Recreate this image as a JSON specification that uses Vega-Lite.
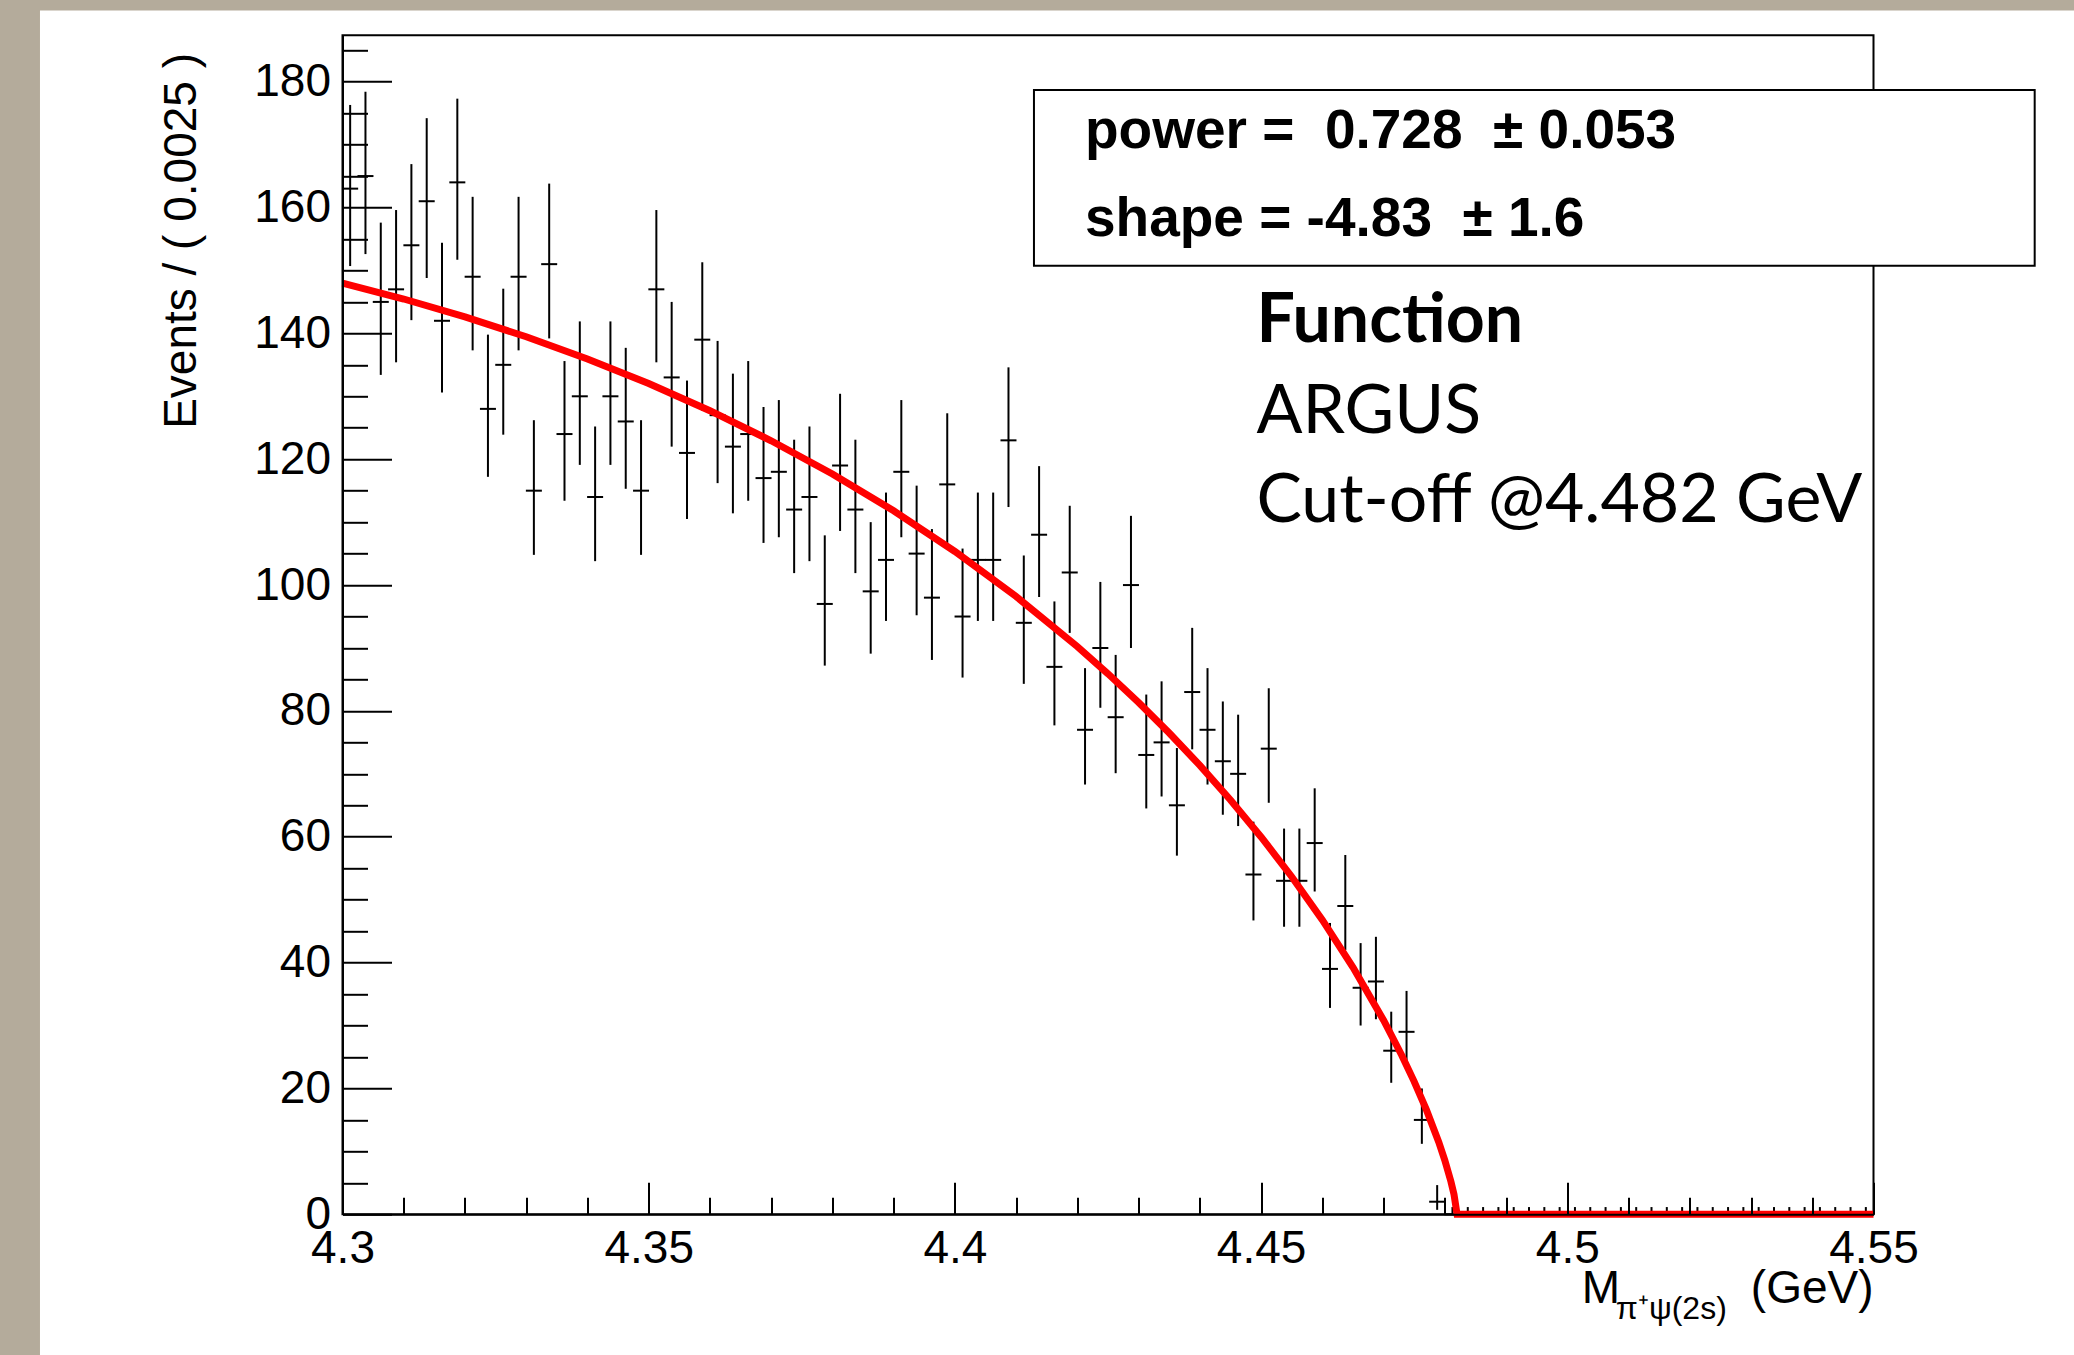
{
  "$schema": "https://vega.github.io/schema/vega-lite/v6.json",
  "width": 1531,
  "height": 1179,
  "autosize": {"type": "none"},
  "padding": {"left": 342.5, "top": 35.3, "right": 200.5, "bottom": 140.7},
  "background": "#b4ab9b",
  "config": {"view": {"stroke": null}, "axis": {"zindex": 1, "grid": false}},
  "datasets": {
    "bins": [
      {"m": 4.30125, "n": 163, "lo": 150.7, "hi": 176.3},
      {"m": 4.30375, "n": 165, "lo": 152.6, "hi": 178.4},
      {"m": 4.30625, "n": 145, "lo": 133.4, "hi": 157.6},
      {"m": 4.30875, "n": 147, "lo": 135.4, "hi": 159.6},
      {"m": 4.31125, "n": 154, "lo": 142.1, "hi": 166.9},
      {"m": 4.31375, "n": 161, "lo": 148.8, "hi": 174.2},
      {"m": 4.31625, "n": 142, "lo": 130.6, "hi": 154.4},
      {"m": 4.31875, "n": 164, "lo": 151.7, "hi": 177.3},
      {"m": 4.32125, "n": 149, "lo": 137.3, "hi": 161.7},
      {"m": 4.32375, "n": 128, "lo": 117.2, "hi": 139.8},
      {"m": 4.32625, "n": 135, "lo": 123.9, "hi": 147.1},
      {"m": 4.32875, "n": 149, "lo": 137.3, "hi": 161.7},
      {"m": 4.33125, "n": 115, "lo": 104.8, "hi": 126.2},
      {"m": 4.33375, "n": 151, "lo": 139.2, "hi": 163.8},
      {"m": 4.33625, "n": 124, "lo": 113.4, "hi": 135.6},
      {"m": 4.33875, "n": 130, "lo": 119.1, "hi": 141.9},
      {"m": 4.34125, "n": 114, "lo": 103.8, "hi": 125.2},
      {"m": 4.34375, "n": 130, "lo": 119.1, "hi": 141.9},
      {"m": 4.34625, "n": 126, "lo": 115.3, "hi": 137.7},
      {"m": 4.34875, "n": 115, "lo": 104.8, "hi": 126.2},
      {"m": 4.35125, "n": 147, "lo": 135.4, "hi": 159.6},
      {"m": 4.35375, "n": 133, "lo": 122.0, "hi": 145.0},
      {"m": 4.35625, "n": 121, "lo": 110.5, "hi": 132.5},
      {"m": 4.35875, "n": 139, "lo": 127.7, "hi": 151.3},
      {"m": 4.36125, "n": 127, "lo": 116.2, "hi": 138.8},
      {"m": 4.36375, "n": 122, "lo": 111.4, "hi": 133.6},
      {"m": 4.36625, "n": 124, "lo": 113.4, "hi": 135.6},
      {"m": 4.36875, "n": 117, "lo": 106.7, "hi": 128.3},
      {"m": 4.37125, "n": 118, "lo": 107.6, "hi": 129.4},
      {"m": 4.37375, "n": 112, "lo": 101.9, "hi": 123.1},
      {"m": 4.37625, "n": 114, "lo": 103.8, "hi": 125.2},
      {"m": 4.37875, "n": 97, "lo": 87.2, "hi": 107.9},
      {"m": 4.38125, "n": 119, "lo": 108.6, "hi": 130.4},
      {"m": 4.38375, "n": 112, "lo": 101.9, "hi": 123.1},
      {"m": 4.38625, "n": 99, "lo": 89.1, "hi": 110.0},
      {"m": 4.38875, "n": 104, "lo": 94.3, "hi": 114.7},
      {"m": 4.39125, "n": 118, "lo": 107.6, "hi": 129.4},
      {"m": 4.39375, "n": 105, "lo": 95.2, "hi": 115.8},
      {"m": 4.39625, "n": 98, "lo": 88.1, "hi": 108.9},
      {"m": 4.39875, "n": 116, "lo": 105.7, "hi": 127.3},
      {"m": 4.40125, "n": 95, "lo": 85.3, "hi": 105.8},
      {"m": 4.40375, "n": 104, "lo": 94.3, "hi": 114.7},
      {"m": 4.40625, "n": 104, "lo": 94.3, "hi": 114.7},
      {"m": 4.40875, "n": 123, "lo": 112.4, "hi": 134.6},
      {"m": 4.41125, "n": 94, "lo": 84.3, "hi": 104.7},
      {"m": 4.41375, "n": 108, "lo": 98.1, "hi": 118.9},
      {"m": 4.41625, "n": 87, "lo": 77.7, "hi": 97.4},
      {"m": 4.41875, "n": 102, "lo": 92.4, "hi": 112.6},
      {"m": 4.42125, "n": 77, "lo": 68.3, "hi": 86.8},
      {"m": 4.42375, "n": 90, "lo": 80.5, "hi": 100.5},
      {"m": 4.42625, "n": 79, "lo": 70.1, "hi": 88.9},
      {"m": 4.42875, "n": 100, "lo": 90.0, "hi": 111.0},
      {"m": 4.43125, "n": 73, "lo": 64.5, "hi": 82.6},
      {"m": 4.43375, "n": 75, "lo": 66.4, "hi": 84.7},
      {"m": 4.43625, "n": 65, "lo": 57.0, "hi": 74.1},
      {"m": 4.43875, "n": 83, "lo": 73.9, "hi": 93.2},
      {"m": 4.44125, "n": 77, "lo": 68.3, "hi": 86.8},
      {"m": 4.44375, "n": 72, "lo": 63.5, "hi": 81.5},
      {"m": 4.44625, "n": 70, "lo": 61.7, "hi": 79.4},
      {"m": 4.44875, "n": 54, "lo": 46.7, "hi": 62.4},
      {"m": 4.45125, "n": 74, "lo": 65.4, "hi": 83.6},
      {"m": 4.45375, "n": 53, "lo": 45.7, "hi": 61.3},
      {"m": 4.45625, "n": 53, "lo": 45.7, "hi": 61.3},
      {"m": 4.45875, "n": 59, "lo": 51.3, "hi": 67.7},
      {"m": 4.46125, "n": 39, "lo": 32.8, "hi": 46.3},
      {"m": 4.46375, "n": 49, "lo": 42.0, "hi": 57.1},
      {"m": 4.46625, "n": 36, "lo": 30.0, "hi": 43.1},
      {"m": 4.46875, "n": 37, "lo": 31.0, "hi": 44.1},
      {"m": 4.47125, "n": 26, "lo": 20.9, "hi": 32.2},
      {"m": 4.47375, "n": 29, "lo": 23.7, "hi": 35.5},
      {"m": 4.47625, "n": 15, "lo": 11.2, "hi": 20.0},
      {"m": 4.47875, "n": 2, "lo": 0.71, "hi": 4.64},
      {"m": 4.48125, "n": 0, "lo": 0, "hi": 1.15},
      {"m": 4.48375, "n": 0, "lo": 0, "hi": 1.15},
      {"m": 4.48625, "n": 0, "lo": 0, "hi": 1.15},
      {"m": 4.48875, "n": 0, "lo": 0, "hi": 1.15},
      {"m": 4.49125, "n": 0, "lo": 0, "hi": 1.15},
      {"m": 4.49375, "n": 0, "lo": 0, "hi": 1.15},
      {"m": 4.49625, "n": 0, "lo": 0, "hi": 1.15},
      {"m": 4.49875, "n": 0, "lo": 0, "hi": 1.15},
      {"m": 4.50125, "n": 0, "lo": 0, "hi": 1.15},
      {"m": 4.50375, "n": 0, "lo": 0, "hi": 1.15},
      {"m": 4.50625, "n": 0, "lo": 0, "hi": 1.15},
      {"m": 4.50875, "n": 0, "lo": 0, "hi": 1.15},
      {"m": 4.51125, "n": 0, "lo": 0, "hi": 1.15},
      {"m": 4.51375, "n": 0, "lo": 0, "hi": 1.15},
      {"m": 4.51625, "n": 0, "lo": 0, "hi": 1.15},
      {"m": 4.51875, "n": 0, "lo": 0, "hi": 1.15},
      {"m": 4.52125, "n": 0, "lo": 0, "hi": 1.15},
      {"m": 4.52375, "n": 0, "lo": 0, "hi": 1.15},
      {"m": 4.52625, "n": 0, "lo": 0, "hi": 1.15},
      {"m": 4.52875, "n": 0, "lo": 0, "hi": 1.15},
      {"m": 4.53125, "n": 0, "lo": 0, "hi": 1.15},
      {"m": 4.53375, "n": 0, "lo": 0, "hi": 1.15},
      {"m": 4.53625, "n": 0, "lo": 0, "hi": 1.15},
      {"m": 4.53875, "n": 0, "lo": 0, "hi": 1.15},
      {"m": 4.54125, "n": 0, "lo": 0, "hi": 1.15},
      {"m": 4.54375, "n": 0, "lo": 0, "hi": 1.15},
      {"m": 4.54625, "n": 0, "lo": 0, "hi": 1.15},
      {"m": 4.54875, "n": 0, "lo": 0, "hi": 1.15}
    ],
    "curve": [
      {"m": 4.300, "f": 148.0},
      {"m": 4.310, "f": 145.46},
      {"m": 4.320, "f": 142.63},
      {"m": 4.330, "f": 139.46},
      {"m": 4.340, "f": 135.94},
      {"m": 4.350, "f": 132.04},
      {"m": 4.360, "f": 127.71},
      {"m": 4.370, "f": 122.93},
      {"m": 4.380, "f": 117.65},
      {"m": 4.390, "f": 111.80},
      {"m": 4.400, "f": 105.34},
      {"m": 4.410, "f": 98.18},
      {"m": 4.420, "f": 90.22},
      {"m": 4.425, "f": 85.90},
      {"m": 4.430, "f": 81.34},
      {"m": 4.435, "f": 76.49},
      {"m": 4.440, "f": 71.34},
      {"m": 4.445, "f": 65.85},
      {"m": 4.450, "f": 59.97},
      {"m": 4.455, "f": 53.65},
      {"m": 4.460, "f": 46.79},
      {"m": 4.465, "f": 39.26},
      {"m": 4.470, "f": 30.84},
      {"m": 4.473, "f": 25.20},
      {"m": 4.475, "f": 21.09},
      {"m": 4.477, "f": 16.59},
      {"m": 4.479, "f": 11.49},
      {"m": 4.480, "f": 8.58},
      {"m": 4.481, "f": 5.19},
      {"m": 4.4815, "f": 3.14},
      {"m": 4.482, "f": 0},
      {"m": 4.550, "f": 0}
    ]
  },
  "resolve": {"axis": {"x": "independent", "y": "independent"}},
  "layer": [
    {
      "data": {"values": [{}]},
      "mark": {"type": "rect", "fill": "white", "clip": false},
      "encoding": {
        "x": {"datum": 4.2506, "type": "quantitative", "scale": {"domain": [4.3, 4.55], "nice": false, "zero": false}, "axis": null},
        "x2": {"datum": 4.64},
        "y": {"datum": -40, "type": "quantitative", "scale": {"domain": [0, 187.37], "nice": false, "zero": false}, "axis": null},
        "y2": {"datum": 191.3}
      }
    },
    {
      "data": {"values": [{}]},
      "mark": {"type": "rect", "fill": "transparent", "stroke": "black", "strokeWidth": 2},
      "encoding": {
        "x": {"datum": 4.3, "type": "quantitative", "axis": {"orient": "bottom", "zindex": 2, "values": [4.31, 4.32, 4.33, 4.34, 4.36, 4.37, 4.38, 4.39, 4.41, 4.42, 4.43, 4.44, 4.46, 4.47, 4.48, 4.49, 4.51, 4.52, 4.53, 4.54], "tickSize": -17, "tickWidth": 2, "tickColor": "black", "labels": false, "domain": false, "grid": false, "title": null}},
        "x2": {"datum": 4.55},
        "y": {"datum": 0, "type": "quantitative", "axis": {"orient": "left", "zindex": 2, "values": [5, 10, 15, 25, 30, 35, 45, 50, 55, 65, 70, 75, 85, 90, 95, 105, 110, 115, 125, 130, 135, 145, 150, 155, 165, 170, 175, 185], "tickSize": -25, "tickWidth": 2, "tickColor": "black", "labels": false, "domain": false, "grid": false, "title": null}},
        "y2": {"datum": 187.37}
      }
    },
    {
      "data": {"name": "bins"},
      "mark": {"type": "rule", "color": "black", "strokeWidth": 2},
      "encoding": {
        "x": {"field": "m", "type": "quantitative", "axis": {"orient": "bottom", "zindex": 2, "values": [4.3, 4.35, 4.4, 4.45, 4.5, 4.55], "format": "~g", "tickSize": -32, "tickWidth": 2, "tickColor": "black", "domain": true, "domainColor": "black", "domainWidth": 2, "grid": false, "labelFont": "Liberation Sans", "labelFontSize": 46, "labelColor": "black", "labelPadding": 44, "labelFlush": false, "labelOverlap": false, "labelBound": false, "title": null}},
        "y": {"field": "lo", "type": "quantitative", "axis": {"orient": "left", "zindex": 2, "values": [0, 20, 40, 60, 80, 100, 120, 140, 160, 180], "tickSize": -49, "tickWidth": 2, "tickColor": "black", "domain": true, "domainColor": "black", "domainWidth": 2, "grid": false, "labelFont": "Liberation Sans", "labelFontSize": 46, "labelColor": "black", "labelPadding": 61, "labelFlush": false, "labelOverlap": false, "labelBound": false, "title": null}},
        "y2": {"field": "hi"}
      }
    },
    {
      "data": {"name": "bins"},
      "mark": {"type": "tick", "orient": "horizontal", "color": "black", "size": 16, "thickness": 2, "opacity": 1},
      "encoding": {
        "x": {"field": "m", "type": "quantitative", "axis": null},
        "y": {"field": "n", "type": "quantitative", "axis": null}
      }
    },
    {
      "data": {"name": "curve"},
      "mark": {"type": "line", "color": "#ff0000", "strokeWidth": 7},
      "encoding": {
        "x": {"field": "m", "type": "quantitative", "axis": null},
        "y": {"field": "f", "type": "quantitative", "axis": null}
      }
    },
    {
      "data": {"values": [{}]},
      "mark": {"type": "rect", "fill": "white", "stroke": "black", "strokeWidth": 2, "clip": false},
      "encoding": {
        "x": {"datum": 4.41291, "type": "quantitative", "axis": null},
        "x2": {"datum": 4.57632},
        "y": {"datum": 178.68, "type": "quantitative", "axis": null},
        "y2": {"datum": 150.75}
      }
    },
    {
      "data": {"values": [{}]},
      "mark": {"type": "text", "text": "power =\u00a0\u00a00.728\u00a0\u00a0±\u00a00.053", "font": "Liberation Sans", "fontWeight": "bold", "fontSize": 55, "align": "left", "baseline": "alphabetic", "color": "black"},
      "encoding": {
        "x": {"datum": 4.42124, "type": "quantitative", "axis": null},
        "y": {"datum": 169.46, "type": "quantitative", "axis": null}
      }
    },
    {
      "data": {"values": [{}]},
      "mark": {"type": "text", "text": "shape = -4.83\u00a0\u00a0±\u00a01.6", "font": "Liberation Sans", "fontWeight": "bold", "fontSize": 55, "align": "left", "baseline": "alphabetic", "color": "black"},
      "encoding": {
        "x": {"datum": 4.42124, "type": "quantitative", "axis": null},
        "y": {"datum": 155.47, "type": "quantitative", "axis": null}
      }
    },
    {
      "data": {"values": [{}]},
      "mark": {"type": "text", "text": "Function", "font": "Lato", "fontWeight": "bold", "fontSize": 68, "align": "left", "baseline": "alphabetic", "color": "black"},
      "encoding": {
        "x": {"datum": 4.44923, "type": "quantitative", "axis": null},
        "y": {"datum": 138.63, "type": "quantitative", "axis": null}
      }
    },
    {
      "data": {"values": [{}]},
      "mark": {"type": "text", "text": "ARGUS", "font": "Lato", "fontSize": 68, "align": "left", "baseline": "alphabetic", "color": "black"},
      "encoding": {
        "x": {"datum": 4.44923, "type": "quantitative", "axis": null},
        "y": {"datum": 124.09, "type": "quantitative", "axis": null}
      }
    },
    {
      "data": {"values": [{}]},
      "mark": {"type": "text", "text": "Cut-off @4.482 GeV", "font": "Lato", "fontSize": 68, "align": "left", "baseline": "alphabetic", "color": "black"},
      "encoding": {
        "x": {"datum": 4.44923, "type": "quantitative", "axis": null},
        "y": {"datum": 110.0, "type": "quantitative", "axis": null}
      }
    },
    {
      "data": {"values": [{}]},
      "mark": {"type": "text", "text": "Events / ( 0.0025 )", "font": "Liberation Sans", "fontSize": 46, "angle": 270, "align": "right", "baseline": "alphabetic", "color": "black"},
      "encoding": {
        "x": {"datum": 4.27612, "type": "quantitative", "axis": null},
        "y": {"datum": 184.56, "type": "quantitative", "axis": null}
      }
    },
    {
      "data": {"values": [{}]},
      "mark": {"type": "text", "text": "M", "font": "Liberation Sans", "fontSize": 46, "align": "left", "baseline": "alphabetic", "color": "black"},
      "encoding": {
        "x": {"datum": 4.50237, "type": "quantitative", "axis": null},
        "y": {"datum": -14.1, "type": "quantitative", "axis": null}
      }
    },
    {
      "data": {"values": [{}]},
      "mark": {"type": "text", "text": "π⁺ψ(2s)", "font": "Liberation Sans", "fontSize": 32, "align": "left", "baseline": "alphabetic", "color": "black"},
      "encoding": {
        "x": {"datum": 4.50792, "type": "quantitative", "axis": null},
        "y": {"datum": -16.64, "type": "quantitative", "axis": null}
      }
    },
    {
      "data": {"values": [{}]},
      "mark": {"type": "text", "text": "(GeV)", "font": "Liberation Sans", "fontSize": 46, "align": "right", "baseline": "alphabetic", "color": "black"},
      "encoding": {
        "x": {"datum": 4.55, "type": "quantitative", "axis": null},
        "y": {"datum": -14.1, "type": "quantitative", "axis": null}
      }
    }
  ]
}
